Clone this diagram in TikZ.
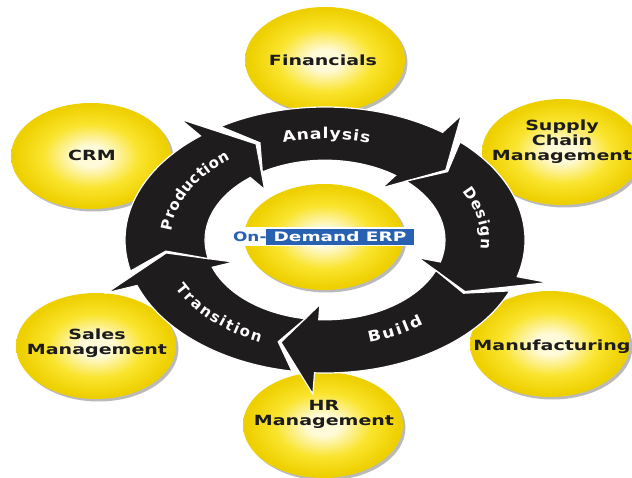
\documentclass[tikz,border=0pt]{standalone}
\usepackage{fontspec}
\usetikzlibrary{shapes.geometric,shadows,decorations.text}
\newfontfamily\lblfont{DejaVu Sans}
% fonts for the words along the cycle, sized through Scale
\newfontfamily\stretchmid{DejaVu Sans}[Scale=1.5, FakeStretch=1.15]
\newfontfamily\stretchnone{DejaVu Sans}[Scale=1.5]
\newcommand\ringmid{\stretchmid\bfseries}
\newcommand\ringplain{\stretchnone\bfseries}

\definecolor{ylight}{RGB}{255,250,215}
\definecolor{ymid}{RGB}{250,228,45}
\definecolor{yedge}{RGB}{238,208,0}
\definecolor{ringblack}{RGB}{30,28,28}
\definecolor{erpblue}{RGB}{40,96,178}
\definecolor{labelink}{RGB}{28,28,28}

\pgfdeclareradialshading{yball}{\pgfpoint{0bp}{0bp}}{%
  color(0bp)=(ylight); color(5bp)=(ylight); color(15bp)=(ymid);
  color(24bp)=(yedge); color(50bp)=(yedge)}

% one curved segment of the cycle: tail angle #1, barb angle #2 (clockwise)
\newcommand\ringarrow[2]{%
  \path[segment] (#1:200) arc[start angle=#1, end angle=#2, radius=200]
    -- (#2:232) -- ({#2-13}:160) -- (#2:97) -- (#2:120)
    arc[start angle=#2, end angle=#1, radius=120]
    -- ({#1-7.5}:160) -- cycle;}

\begin{document}
\begin{tikzpicture}[x=1pt, y=1pt,
  bubble/.style={ellipse, minimum width=160pt, minimum height=106pt, inner sep=0pt,
    shading=yball,
    drop shadow={shadow xshift=2.5pt, shadow yshift=-2.5pt, fill=black!45, opacity=0.6}},
  bubbletext/.style={font=\lblfont\bfseries\fontsize{14}{15}\selectfont, text=labelink,
    align=center, xscale=1.36, inner sep=0pt},
  segment/.style={fill=ringblack, draw=white, line width=1.2pt, line join=miter},
  ringword/.style 2 args={decorate, decoration={text along path, text={|#1|#2},
    text color=white, text align={fit to path}}}
]
\useasboundingbox (0,0) rectangle (632,477);
\fill[white] (0,0) rectangle (632,477);
\clip (0,0) rectangle (632,477);

% surrounding modules
\node[bubble] (fin)   at (325,417) {};
\node[bubble] (scm)   at (562,325) {};
\node[bubble] (crm)   at (91,321)  {};
\node[bubble] (sales) at (96,131)  {};
\node[bubble] (manu)  at (550,133) {};
\node[bubble] (hr)    at (323,52)  {};

% the cycle
\begin{scope}[shift={(325,237)}, yscale=0.665]
  \ringarrow{121.5}{54}    % Analysis
  \ringarrow{47.5}{-16}    % Design
  \ringarrow{-22.5}{-93}   % Build
  \ringarrow{-99.5}{-160}  % Transition
  \ringarrow{193.5}{128.5} % Production
\end{scope}

\begin{scope}[shift={(325,237)}]
  \path[ringword={\ringmid}{Analysis}]     (106:152 and 101) arc[start angle=106, end angle=73, x radius=152, y radius=101];
  \path[ringword={\ringplain}{Design}]     (28:156 and 104) arc[start angle=28, end angle=-5, x radius=156, y radius=104];
  \path[ringword={\ringmid}{Build}]        (-74:160 and 107) arc[start angle=-74, end angle=-52, x radius=160, y radius=107];
  \path[ringword={\ringplain}{Transition}] (206:166 and 111) arc[start angle=206, end angle=247, x radius=166, y radius=111];
  \path[ringword={\ringplain}{Production}] (175:154 and 102) arc[start angle=175, end angle=128, x radius=154, y radius=102];
\end{scope}

% hub
\node[bubble] (ctr) at (324,240) {};
\node[fill=white, minimum width=187pt, minimum height=19pt, inner sep=0pt] (erpbar) at (320.5,240) {};
\node[fill=erpblue, minimum width=148pt, minimum height=16pt, inner sep=0pt, anchor=east]
  (erpbox) at (erpbar.east) {};
\node[text=white, font=\lblfont\bfseries\fontsize{13}{13}\selectfont, xscale=1.42, inner sep=0pt]
  (erpname) at (erpbox) {Demand ERP};
\node[text=erpblue, font=\lblfont\bfseries\fontsize{13}{13}\selectfont, xscale=1.3, inner sep=0pt,
  anchor=east] (erpon) at ([xshift=1pt]erpbox.west) {On-};

% module names
\node[bubbletext] (fin-l)   at (323,417) {Financials};
\node[bubbletext] (scm-l)   at (562,335) {Supply\\Chain\\Management};
\node[bubbletext] (crm-l)   at (92,322)  {CRM};
\node[bubbletext] (sales-l) at (97,134)  {Sales\\Management};
\node[bubbletext] (manu-l)  at (552,130) {Manufacturing};
\node[bubbletext] (hr-l)    at (324,63)  {HR\\Management};
\end{tikzpicture}
\end{document}
